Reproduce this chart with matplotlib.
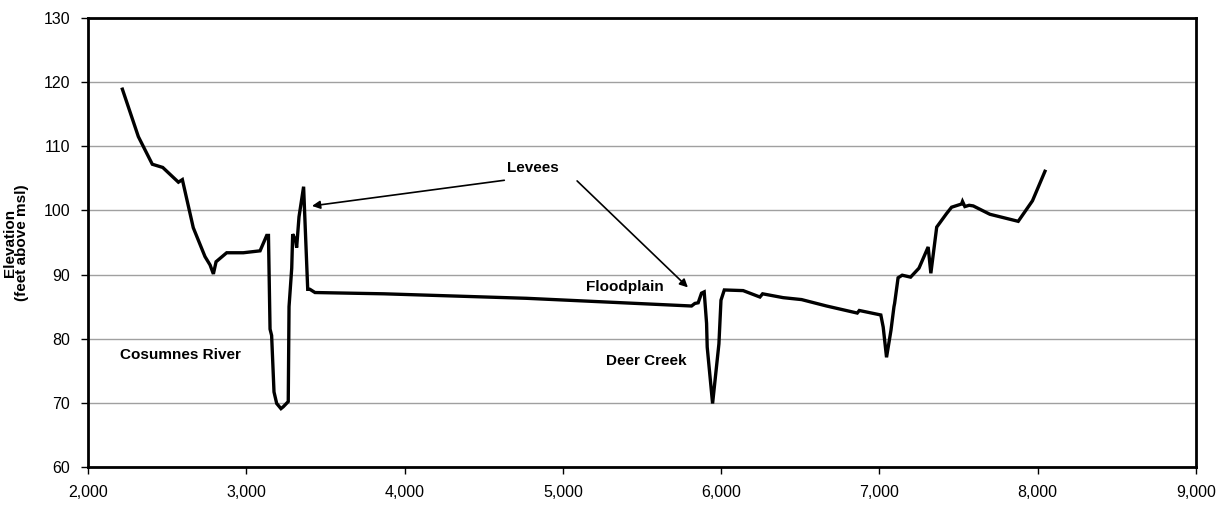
import matplotlib
matplotlib.use("Agg")
import matplotlib.pyplot as plt
from matplotlib import font_manager as fm

# ---- data ----
distance = [2217, 2318, 2406, 2472, 2571, 2596, 2665, 2739, 2771, 2792, 2809, 2876,
            2981, 3087, 3129, 3140, 3150, 3160, 3175, 3192, 3219, 3234, 3265, 3270,
            3287, 3293, 3311, 3318, 3333, 3362, 3388, 3402, 3434, 3870, 4770, 5813,
            5834, 5855, 5876, 5893, 5908, 5912, 5946, 5986, 5999, 6020, 6139, 6245,
            6262, 6392, 6508, 6666, 6860, 6873, 7009, 7024, 7045, 7073, 7092, 7096,
            7118, 7144, 7197, 7250, 7308, 7325, 7362, 7424, 7456, 7519, 7525, 7540,
            7567, 7593, 7698, 7877, 7967, 8046]
elevation = [118.9, 111.5, 107.2, 106.7, 104.4, 104.8, 97.3, 92.8, 91.5, 90.1, 92.0, 93.4,
             93.4, 93.7, 96.1, 96.1, 81.5, 80.5, 71.7, 69.9, 69.1, 69.4, 70.2, 85.0,
             91.0, 96.3, 95.4, 94.2, 99.0, 103.7, 87.7, 87.7, 87.2, 87.0, 86.3, 85.1,
             85.5, 85.6, 87.1, 87.3, 82.4, 78.7, 69.9, 79.2, 86.0, 87.6, 87.5, 86.5,
             87.0, 86.4, 86.1, 85.1, 84.0, 84.4, 83.7, 81.8, 77.1, 81.3, 85.0, 85.5,
             89.5, 89.9, 89.6, 91.0, 94.3, 90.2, 97.4, 99.5, 100.5, 101.0, 101.4, 100.6,
             100.8, 100.7, 99.4, 98.3, 101.5, 106.1]

x_ticks = [2000, 3000, 4000, 5000, 6000, 7000, 8000, 9000]
x_tick_labels = ["2,000", "3,000", "4,000", "5,000", "6,000", "7,000", "8,000", "9,000"]
y_ticks = [60, 70, 80, 90, 100, 110, 120, 130]

labels = ["Cosumnes River", "Deer Creek", "Floodplain", "Levees"]
label_x = [2200, 5530, 5390, 4810]
label_y = [77.4, 76.5, 88.0, 106.6]
levee_arrow_tips = [(3415, 100.7), (5790, 88.0)]
levee_arrow_tails = [(4630, 104.7), (5090, 104.6)]

# ---- fonts ----
names = {f.name for f in fm.fontManager.ttflist}
fam = "Liberation Sans Narrow" if "Liberation Sans Narrow" in names else "Liberation Sans"
plt.rcParams['font.family'] = [fam, 'DejaVu Sans']

fig = plt.figure(figsize=(12.26, 5.08), dpi=100)
ax = fig.add_axes([0.0718, 0.0807, 0.9037, 0.8839])

ax.plot(distance, elevation, color="black", lw=2.4, solid_joinstyle="miter", zorder=3)

ax.set_xlim(2000, 9000)
ax.set_ylim(60, 130)
ax.set_xticks(x_ticks)
ax.set_xticklabels(x_tick_labels)
ax.set_yticks(y_ticks)
ax.yaxis.grid(True, color="#a0a0a0", lw=1.0)
ax.set_axisbelow(True)
for s in ax.spines.values():
    s.set_linewidth(2.0)
    s.set_color("black")
ax.tick_params(axis="both", direction="out", length=5, width=1, labelsize=11.5, pad=8,
               colors="black")

ax.set_ylabel("Elevation\n(feet above msl)", fontsize=11, fontweight="bold",
              linespacing=0.9, labelpad=10)

ax.text(label_x[0], label_y[0], labels[0], fontsize=11, fontweight="bold",
        ha="left", va="center")
ax.text(label_x[1], label_y[1], labels[1], fontsize=11, fontweight="bold",
        ha="center", va="center")
ax.text(label_x[2], label_y[2], labels[2], fontsize=11, fontweight="bold",
        ha="center", va="center")
ax.text(label_x[3], label_y[3], labels[3], fontsize=11, fontweight="bold",
        ha="center", va="center")
for tip, tail in zip(levee_arrow_tips, levee_arrow_tails):
    ax.annotate("", xy=tip, xytext=tail,
                arrowprops=dict(arrowstyle="-|>", color="black", lw=1.2,
                                mutation_scale=12, shrinkA=0, shrinkB=0))

fig.savefig("out.png", dpi=100)
